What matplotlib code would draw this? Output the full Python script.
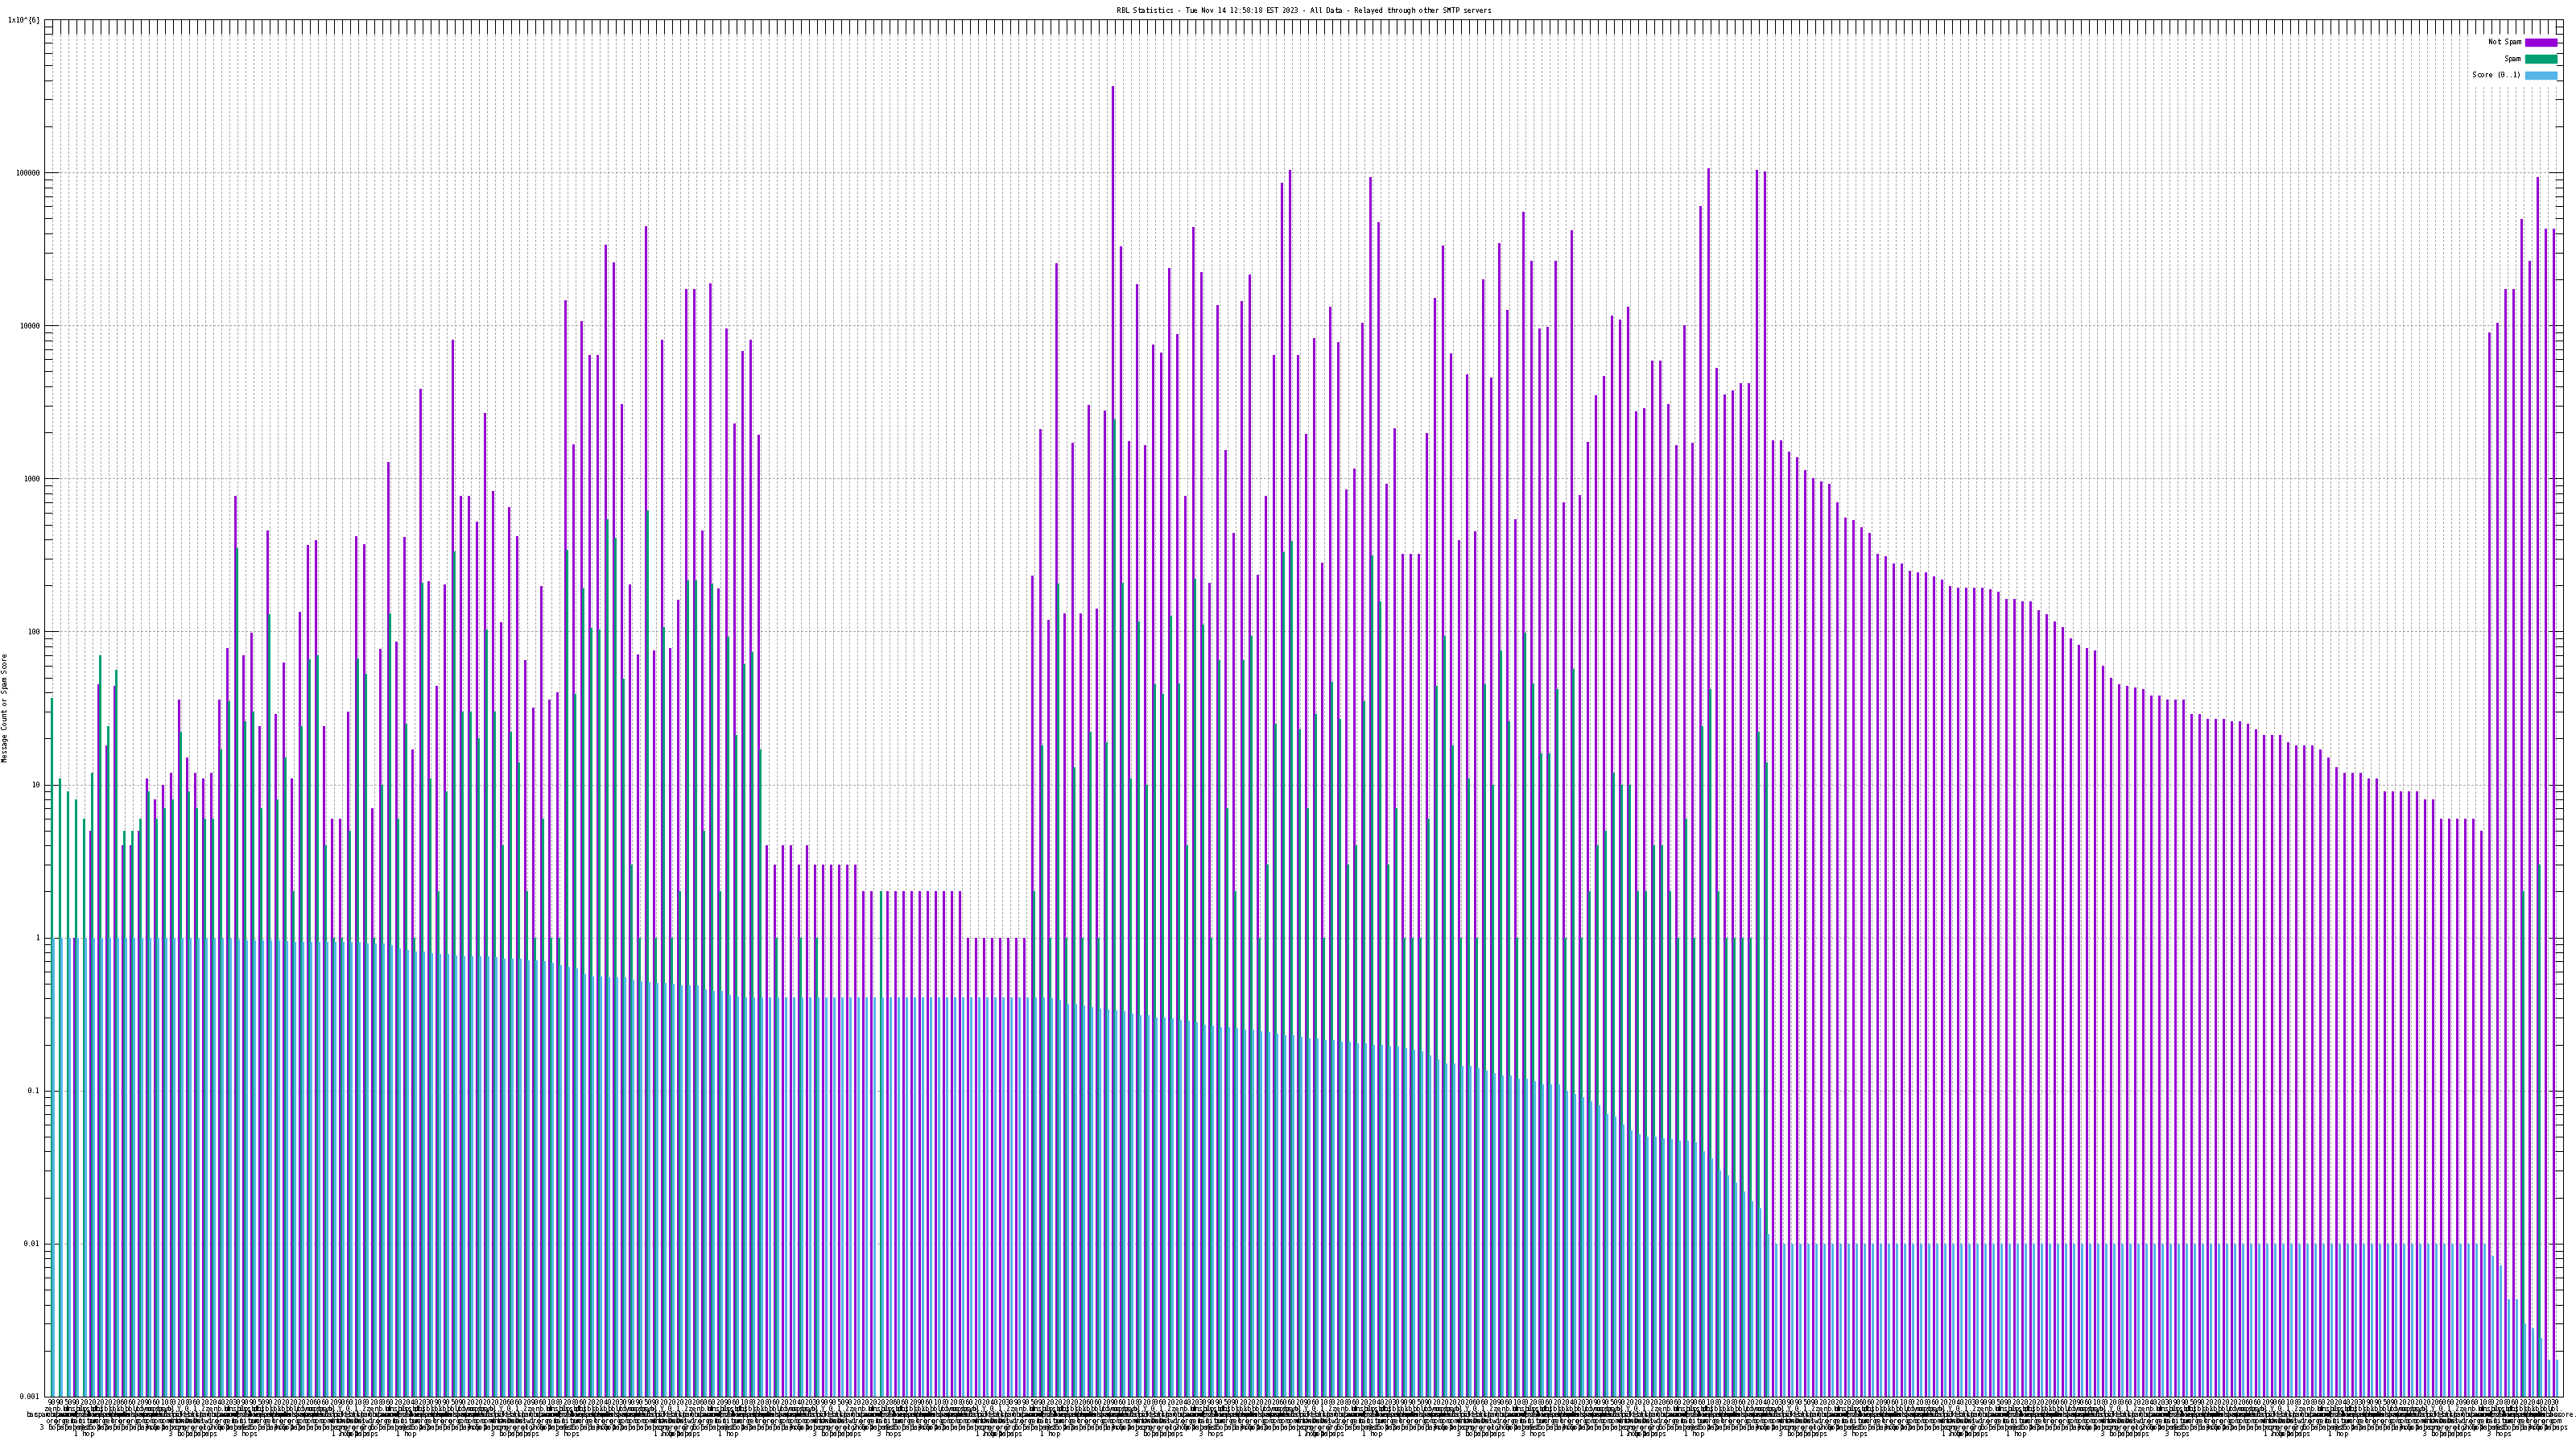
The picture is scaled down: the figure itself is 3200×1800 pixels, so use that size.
import matplotlib
matplotlib.use("Agg")
import matplotlib.pyplot as plt
from matplotlib.patches import Patch, Rectangle
from matplotlib.ticker import LogLocator, NullFormatter
import numpy as np

plt.rcParams["font.family"] = "DejaVu Sans Mono"
plt.rcParams["font.size"] = 6
plt.rcParams["text.antialiased"] = False
plt.rcParams["text.hinting"] = "force_autohint"
plt.rcParams["text.hinting_factor"] = 1
plt.rcParams["lines.antialiased"] = False
plt.rcParams["lines.scale_dashes"] = False

not_spam = [
    0, 0, 0, 1, 0, 5, 45, 18, 44, 4,
    4, 5, 11, 8, 10, 12, 36, 15, 12, 11,
    12, 36, 78, 770, 70, 98, 24, 456, 29, 63,
    11, 134, 368, 394, 24, 6, 6, 30, 419, 371,
    7, 77, 1276, 86, 415, 17, 3850, 214, 44, 203,
    8070, 770, 770, 522, 2670, 826, 115, 651, 419, 65,
    32, 198, 36, 40, 14600, 1676, 10600, 6400, 6400, 33700,
    25900, 3060, 203, 71, 44600, 75, 8070, 78, 162, 17300,
    17300, 456, 18900, 191, 9550, 2290, 6800, 8070, 1920, 4,
    3, 4, 4, 3, 4, 3, 3, 3, 3, 3,
    3, 2, 2, 0, 2, 2, 2, 2, 2, 2,
    2, 2, 2, 2, 1, 1, 1, 1, 1, 1,
    1, 1, 232, 2094, 119, 25500, 131, 1706, 132, 3020,
    141, 2775, 364000, 32900, 1750, 18600, 1650, 7500, 6650, 23600,
    8730, 770, 44200, 22400, 209, 13600, 1540, 438, 14400, 21500,
    234, 770, 6370, 85100, 103500, 6370, 1960, 8220, 282, 13300,
    7740, 851, 1155, 10400, 92700, 47300, 918, 2130, 320, 320,
    320, 1970, 15200, 33100, 6530, 396, 4775, 450, 20100, 4540,
    34300, 12600, 542, 55600, 26500, 9590, 9750, 26500, 700, 42100,
    782, 1738, 3515, 4700, 11600, 10900, 13300, 2750, 2870, 5900,
    5900, 3070, 1640, 10000, 1720, 60500, 107000, 5250, 3550, 3765,
    4200, 4200, 104000, 101000, 1780, 1780, 1490, 1370, 1127, 1000,
    959, 927, 694, 556, 538, 482, 443, 323, 312, 279,
    279, 248, 244, 244, 230, 217, 199, 194, 193, 193,
    193, 188, 183, 164, 163, 158, 157, 138, 130, 116,
    107, 90, 82, 78, 75, 60, 50, 45, 44, 43,
    42, 38, 38, 36, 36, 36, 29, 29, 27, 27,
    27, 26, 26, 25, 23, 21, 21, 21, 19, 18,
    18, 18, 17, 15, 13, 12, 12, 12, 11, 11,
    9, 9, 9, 9, 9, 8, 8, 6, 6, 6,
    6, 6, 5, 9040, 10400, 17200, 17200, 49800, 26500, 93600,
    42700, 42700,
]

spam = [
    37, 11, 9, 8, 6, 12, 70, 24, 56, 5,
    5, 6, 9, 6, 7, 8, 22, 9, 7, 6,
    6, 17, 35, 350, 26, 30, 7, 130, 8, 15,
    2, 24, 66, 70, 4, 1, 1, 5, 67, 53,
    1, 10, 132, 6, 25, 1, 208, 11, 2, 9,
    333, 30, 30, 20, 103, 30, 4, 22, 14, 2,
    1, 6, 1, 1, 341, 39, 191, 106, 103, 540,
    408, 49, 3, 1, 620, 1, 107, 1, 2, 215,
    215, 5, 205, 2, 92, 21, 61, 73, 17, 0,
    1, 0, 0, 1, 0, 1, 0, 0, 0, 0,
    0, 0, 0, 2, 0, 0, 0, 0, 0, 0,
    0, 0, 0, 0, 0, 0, 0, 0, 0, 0,
    0, 0, 2, 18, 1, 206, 1, 13, 1, 22,
    1, 19, 2420, 209, 11, 116, 10, 45, 39, 126,
    46, 4, 220, 111, 1, 65, 7, 2, 65, 93,
    1, 3, 25, 331, 392, 23, 7, 29, 1, 47,
    27, 3, 4, 35, 315, 158, 3, 7, 1, 1,
    1, 6, 44, 93, 18, 1, 11, 1, 45, 10,
    75, 26, 1, 98, 46, 16, 16, 42, 1, 57,
    1, 2, 4, 5, 12, 10, 10, 2, 2, 4,
    4, 2, 1, 6, 1, 24, 42, 2, 1, 1,
    1, 1, 22, 14,
] + [0] * 93 + [2, 0, 3, 0, 0]

score = [
    1, 1, 1, 1, 1, 1, 1, 1, 1, 1,
    1, 1, 1, 1, 1, 1, 1, .983, .983, .983,
    .983, .983, .983, .975, .958, .958, .958, .958, .958, .95,
    .934, .934, .934, .934, .934, .934, .934, .934, .934, .919,
    .919, .911, .888, .851, .83, .815, .808, .795, .78, .78,
    .762, .75, .75, .75, .75, .743, .73, .724, .724, .706,
    .706, .70, .682, .659, .643, .632, .576, .556, .556, .547,
    .547, .547, .529, .515, .511, .503, .503, .498, .486, .486,
    .486, .458, .45, .446, .42, .41,
] + [.406] * 36 + [
    .405, .405, .40, .39, .37, .37, .36, .35,
    .345, .34, .335, .33, .32, .31, .31, .30, .30, .295,
    .29, .285, .28, .27, .265, .26, .26, .255, .25, .25,
    .245, .24, .235, .23, .23, .225, .22, .22, .215, .215,
    .21, .21, .205, .205, .20, .20, .195, .195, .19, .185,
    .18, .17, .16, .15, .15, .145, .145, .14, .135, .13,
    .125, .125, .12, .12, .115, .11, .11, .11, .10, .095,
    .09, .085, .08, .07, .068, .06, .055, .052, .05, .05,
    .049, .048, .047, .047, .046, .04, .036, .03, .028, .025,
    .022, .019, .017, .0115,
] + [.01] * 89 + [.00828, .00724, .00435, .00435, .00302, .00281, .00243, .00175, .00175]

rbl_names = [
    "zen.spamhaus.org", "b.barracudacentral.org", "bl.spamcop.net", "dnsbl.sorbs.net",
    "ix.dnsbl.manitu.net", "psbl.surriel.com", "cbl.abuseat.org", "dnsbl-1.uceprotect.net",
    "sbl.spamhaus.org", "xbl.spamhaus.org", "pbl.spamhaus.org", "ubl.unsubscore.com",
    "dyna.spamrats.com", "noptr.spamrats.com", "spam.spamrats.com", "bl.mailspike.net",
    "Y.list.dnswl.org", "0.list.dnswl.org", "1.list.dnswl.org", "2.list.dnswl.org",
]
rbl_percent = ["90", "90", "50", "90", "20", "20", "20", "20", "20", "60", "60", "20", "90",
               "60", "10", "80", "20", "80", "60", "20", "20", "40", "20", "30"]
rbl_hops = ["3 hops", "5 hops", "5 hops", "5 hops", "1 hop", "2 hops", "5 hops", "4 hops"]

x_labels = []
for i in range(len(not_spam)):
    name = rbl_names[i % len(rbl_names)].replace(".", ".\n")
    x_labels.append(rbl_percent[i % len(rbl_percent)] + "\n" + name + "\n" + rbl_hops[i % len(rbl_hops)])

y_ticks = [1e-3, 1e-2, 1e-1, 1, 10, 100, 1000, 10000, 100000, 1000000]
y_labels = ["0.001", "0.01", "0.1", "1", "10", "100", "1000", "10000", "100000", "1x10^{6}"]

PX = 0.72
W, H = 3200, 1800

fig = plt.figure(figsize=(32, 18), dpi=100)
ax = fig.add_axes([55 / W, 1 - 1735 / H, 3129 / W, 1711 / H])
ax.set_yscale("log")

xs = np.arange(len(not_spam))
ax.bar(xs - 0.23, not_spam, 0.3, color="#9400D3", linewidth=0, antialiased=False, zorder=2, label="Not Spam")
ax.bar(xs - 0.03, spam, 0.3, color="#009E73", linewidth=0, antialiased=False, zorder=3, label="Spam")
ax.bar(xs + 0.17, score, 0.3, color="#56B4E9", linewidth=0, antialiased=False, zorder=4, label="Score (0..1)")

ax.set_xlim(-1, 311.9)
ax.set_ylim(1e-3, 1e6)

ax.set_axisbelow(True)
ax.set_xticks(xs)
ax.set_xticklabels(x_labels, fontsize=6, linespacing=0.82)
ax.set_yticks(y_ticks)
ax.set_yticklabels(y_labels, fontsize=6)
ax.yaxis.set_minor_locator(LogLocator(base=10, subs=range(2, 10), numticks=40))
ax.yaxis.set_minor_formatter(NullFormatter())

ax.tick_params(axis="x", which="major", direction="in", top=True, bottom=True,
               length=18 * PX, width=PX, pad=3 * PX, color="black")
ax.tick_params(axis="y", which="major", direction="in", left=True, right=True,
               length=18 * PX, width=PX, pad=5 * PX, color="black")
ax.tick_params(axis="y", which="minor", direction="in", left=True, right=True,
               length=10 * PX, width=PX, color="black")

ax.grid(True, which="major", axis="both", color="#A8A8A8", linewidth=PX,
        linestyle=(0, (2.4 * PX, 2.6 * PX)))

for spine in ax.spines.values():
    spine.set_linewidth(PX)

# white area behind the key, cuts the grid off
ax.add_patch(Rectangle((3067 / W, 1 - 108 / H), 109 / W, 65 / H, transform=fig.transFigure,
                       facecolor="white", edgecolor="none", zorder=1))

handles = [Patch(color="#9400D3", label="Not Spam"),
           Patch(color="#009E73", label="Spam"),
           Patch(color="#56B4E9", label="Score (0..1)")]
ax.legend(handles=handles, loc="upper right", bbox_to_anchor=(3175.5 / W, 1 - 48 / H),
          bbox_transform=fig.transFigure, frameon=False, markerfirst=False, fontsize=6,
          handlelength=4.68, handleheight=1.32, labelspacing=1.32, handletextpad=0.6,
          borderpad=0, borderaxespad=0)

fig.text(1620 / W, 1 - 13 / H,
         "RBL Statistics - Tue Nov 14 12:58:18 EST 2023 - All Data - Relayed through other SMTP servers",
         ha="center", va="center", fontsize=6)
fig.text(7 / W, 1 - 878 / H, "Message Count or Spam Score", rotation=90,
         ha="center", va="center", fontsize=6)

fig.savefig("out.png", dpi=100, facecolor="white")
